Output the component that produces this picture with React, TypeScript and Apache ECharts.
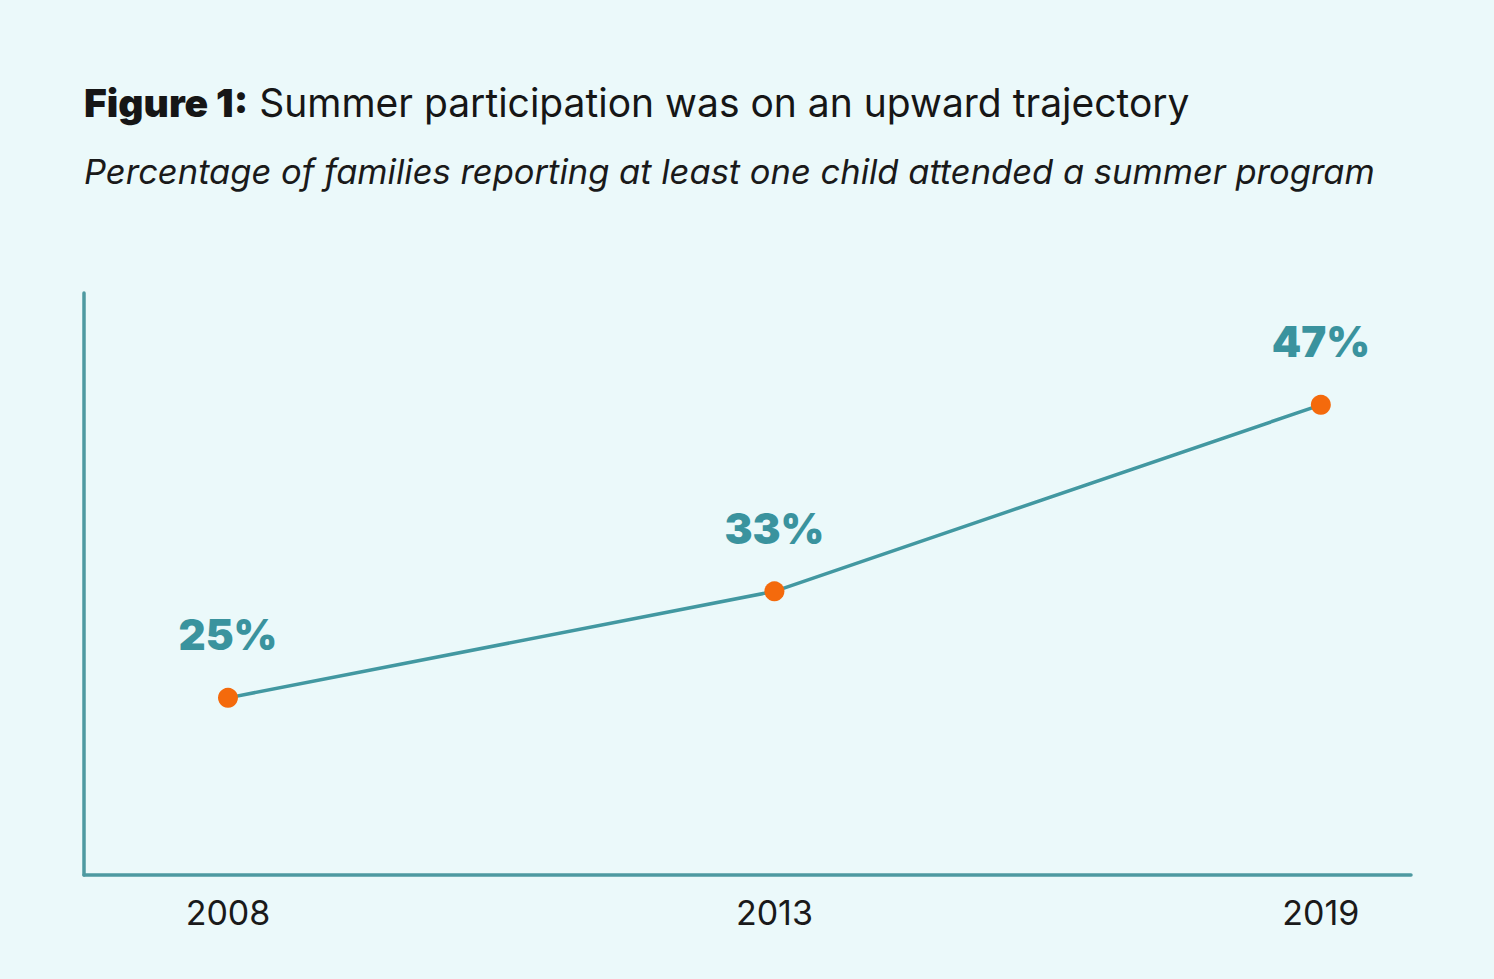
import React, { useEffect, useRef } from "react";
import * as echarts from "echarts";

const years = ["2008", "2013", "2019"];
const positions = [0, 1, 2];
const values = [25, 33, 47];

const titleBold = "Figure 1:";
const titleRest = " Summer participation was on an upward trajectory";
const subtitle = "Percentage of families reporting at least one child attended a summer program";

export default function App() {
  const ref = useRef<HTMLDivElement>(null);
  useEffect(() => {
    if (!ref.current) return;
    const chart = echarts.init(ref.current, null, { renderer: "svg" });
    const teal = "#4298A1";
    chart.setOption({
      animation: false,
      backgroundColor: "#EBF9FA",
      title: [
        {
          text: `{b|${titleBold}}{r|${titleRest}}`,
          left: 79,
          top: 73,
          textStyle: {
            rich: {
              b: { fontFamily: "Inter", fontSize: 39, fontWeight: 900, color: "#161616", lineHeight: 48 },
              r: { fontFamily: "Inter", fontSize: 39, fontWeight: 400, color: "#161616", lineHeight: 48 },
            },
          },
        },
        {
          text: subtitle,
          left: 79,
          top: 144,
          textStyle: {
            fontFamily: "Inter",
            fontSize: 34.5,
            fontStyle: "italic",
            fontWeight: 400,
            color: "#1a1a1a",
            lineHeight: 44,
          },
        },
      ],
      grid: { left: 84, right: 83, top: 293, bottom: 104 },
      xAxis: {
        type: "value",
        min: -0.2635,
        max: 2.165,
        axisLine: { show: true, onZero: false, lineStyle: { color: "#4E9AA1", width: 3.5 } },
        axisTick: { show: false },
        splitLine: { show: false },
        axisLabel: {
          customValues: positions,
          formatter: (v: number) => years[Math.round(v)] ?? "",
          fontFamily: "Inter",
          fontSize: 34,
          color: "#1a1a1a",
          margin: 20,
        },
      },
      yAxis: {
        type: "value",
        min: 11.7,
        max: 55.4,
        axisLine: { show: true, onZero: false, lineStyle: { color: "#4E9AA1", width: 3.5 } },
        axisTick: { show: false },
        axisLabel: { show: false },
        splitLine: { show: false },
      },
      series: [
        {
          type: "line",
          data: positions.map((p, i) => [p, values[i]]),
          lineStyle: { color: teal, width: 3.5 },
          symbol: "circle",
          symbolSize: 20,
          itemStyle: { color: "#F46A0C", borderWidth: 0 },
          label: {
            show: true,
            position: "top",
            distance: 32,
            formatter: (p: any) => `${p.value[1]}%`,
            fontFamily: "Inter",
            fontSize: 42,
            fontWeight: 900,
            color: "#3A939E",
          },
        },
      ],
    });
    return () => chart.dispose();
  }, []);
  return (
    <div
      ref={ref}
      style={{ position: "fixed", left: 0, top: 0, width: 1494, height: 979 }}
    />
  );
}
